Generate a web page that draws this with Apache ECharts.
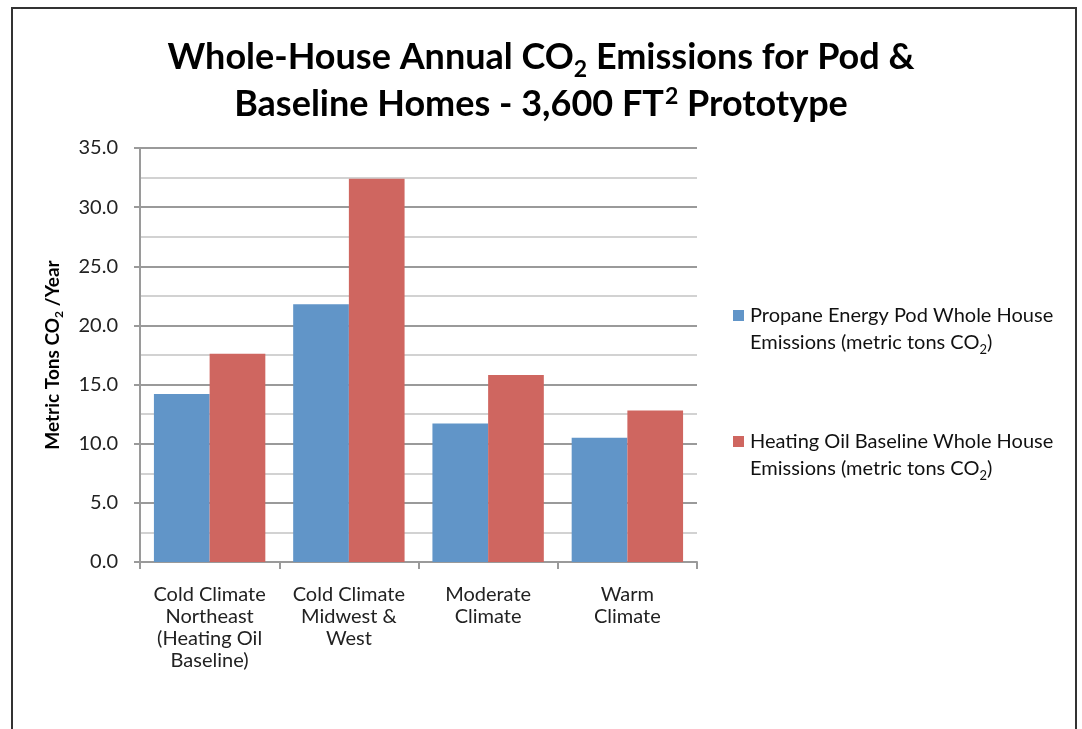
<!DOCTYPE html>
<html>
<head>
<meta charset="utf-8">
<style>
  html, body { margin: 0; padding: 0; background: #fff; }
  #chart { width: 1082px; height: 729px; }
</style>
<script src="https://cdn.jsdelivr.net/npm/echarts@6/dist/echarts.min.js"></script>
</head>
<body>
<div id="chart"></div>
<script>
// Climate regions on the category axis
const categories = [
  'Cold Climate\nNortheast\n(Heating Oil\nBaseline)',
  'Cold Climate\nMidwest &\nWest',
  'Moderate\nClimate',
  'Warm\nClimate'
];

// Annual whole-house emissions, metric tons CO2 per year
const podEmissions = [14.2, 21.8, 11.7, 10.5];
const baselineEmissions = [17.6, 32.4, 15.8, 12.8];

// Series names and the value axis ticks
const seriesNames = [
  'Propane Energy Pod Whole House Emissions (metric tons CO2)',
  'Heating Oil Baseline Whole House Emissions (metric tons CO2)'
];
const legendLabels = [
  'Propane Energy Pod Whole House\nEmissions (metric tons CO{s|2})',
  'Heating Oil Baseline Whole House\nEmissions (metric tons CO{s|2})'
];
const yMin = 0, yMax = 35, yStep = 5;

const FONT = 'Lato';
const chart = echarts.init(document.getElementById('chart'), null, { renderer: 'canvas' });

chart.setOption({
  backgroundColor: '#ffffff',
  animation: false,
  textStyle: { fontFamily: FONT },
  graphic: [{
    type: 'rect',
    shape: { x: 12, y: 8, width: 1064, height: 760 },
    style: { fill: 'none', stroke: '#333333', lineWidth: 2 },
    silent: true
  }],
  title: {
    text: '{a|Whole-House Annual CO}{s|2}{a| Emissions for Pod &}\n{a|Baseline Homes - 3,600 FT}{p|2}{a| Prototype}',
    left: 'center',
    top: 29,
    textStyle: {
      rich: {
        a: { fontFamily: FONT, fontSize: 36, fontWeight: 'bold', color: '#000', lineHeight: 47 },
        s: { fontFamily: FONT, fontSize: 23, fontWeight: 'bold', color: '#000', lineHeight: 23, verticalAlign: 'bottom' },
        p: { fontFamily: FONT, fontSize: 23, fontWeight: 'bold', color: '#000', lineHeight: 23, verticalAlign: 'top', padding: [4, 0, 0, 1] }
      }
    }
  },
  legend: {
    orient: 'vertical',
    left: 733,
    top: 275,
    padding: 0,
    itemGap: 45,
    itemWidth: 11,
    itemHeight: 11,
    icon: 'rect',
    data: seriesNames,
    formatter: function (name) {
      return legendLabels[seriesNames.indexOf(name)];
    },
    textStyle: {
      fontFamily: FONT,
      fontSize: 20,
      color: '#111',
      lineHeight: 27,
      padding: [27, 0, 0, 1],
      rich: {
        s: { fontFamily: FONT, fontSize: 13, color: '#111', lineHeight: 13, verticalAlign: 'bottom' }
      }
    }
  },
  grid: { left: 140, right: 385, top: 148, bottom: 167, containLabel: false },
  xAxis: {
    type: 'category',
    data: categories,
    axisLine: { show: true, lineStyle: { color: '#9a9a9a', width: 2 } },
    axisTick: { show: true, length: 7, lineStyle: { color: '#9a9a9a', width: 2 } },
    axisLabel: {
      interval: 0,
      margin: 22,
      fontFamily: FONT,
      fontSize: 20,
      lineHeight: 22,
      color: '#222',
      align: 'center'
    },
    splitLine: { show: false }
  },
  yAxis: {
    type: 'value',
    min: yMin,
    max: yMax,
    interval: yStep,
    name: '{a|Metric Tons CO}{s|2}{a| /Year}',
    nameLocation: 'middle',
    nameGap: 75,
    nameRotate: 90,
    nameTextStyle: {
      rich: {
        a: { fontFamily: FONT, fontSize: 19, fontWeight: 'bold', color: '#000', lineHeight: 24 },
        s: { fontFamily: FONT, fontSize: 12, fontWeight: 'bold', color: '#000', lineHeight: 12, verticalAlign: 'bottom' }
      }
    },
    axisLine: { show: true, lineStyle: { color: '#9a9a9a', width: 2 } },
    axisTick: { show: true, length: 6, lineStyle: { color: '#9a9a9a', width: 2 } },
    axisLabel: {
      margin: 22,
      fontFamily: FONT,
      fontSize: 20,
      color: '#222',
      formatter: function (v) { return v.toFixed(1); }
    },
    splitLine: { show: true, lineStyle: { color: '#9a9a9a', width: 2 } },
    minorTick: { show: false, splitNumber: 2 },
    minorSplitLine: { show: true, lineStyle: { color: '#d2d2d2', width: 2 } }
  },
  series: [
    {
      name: seriesNames[0],
      type: 'bar',
      data: podEmissions,
      barGap: '0%',
      barCategoryGap: '20%',
      itemStyle: { color: '#6195c8' }
    },
    {
      name: seriesNames[1],
      type: 'bar',
      data: baselineEmissions,
      barGap: '0%',
      barCategoryGap: '20%',
      itemStyle: { color: '#cf6660' }
    }
  ]
});
</script>
</body>
</html>
